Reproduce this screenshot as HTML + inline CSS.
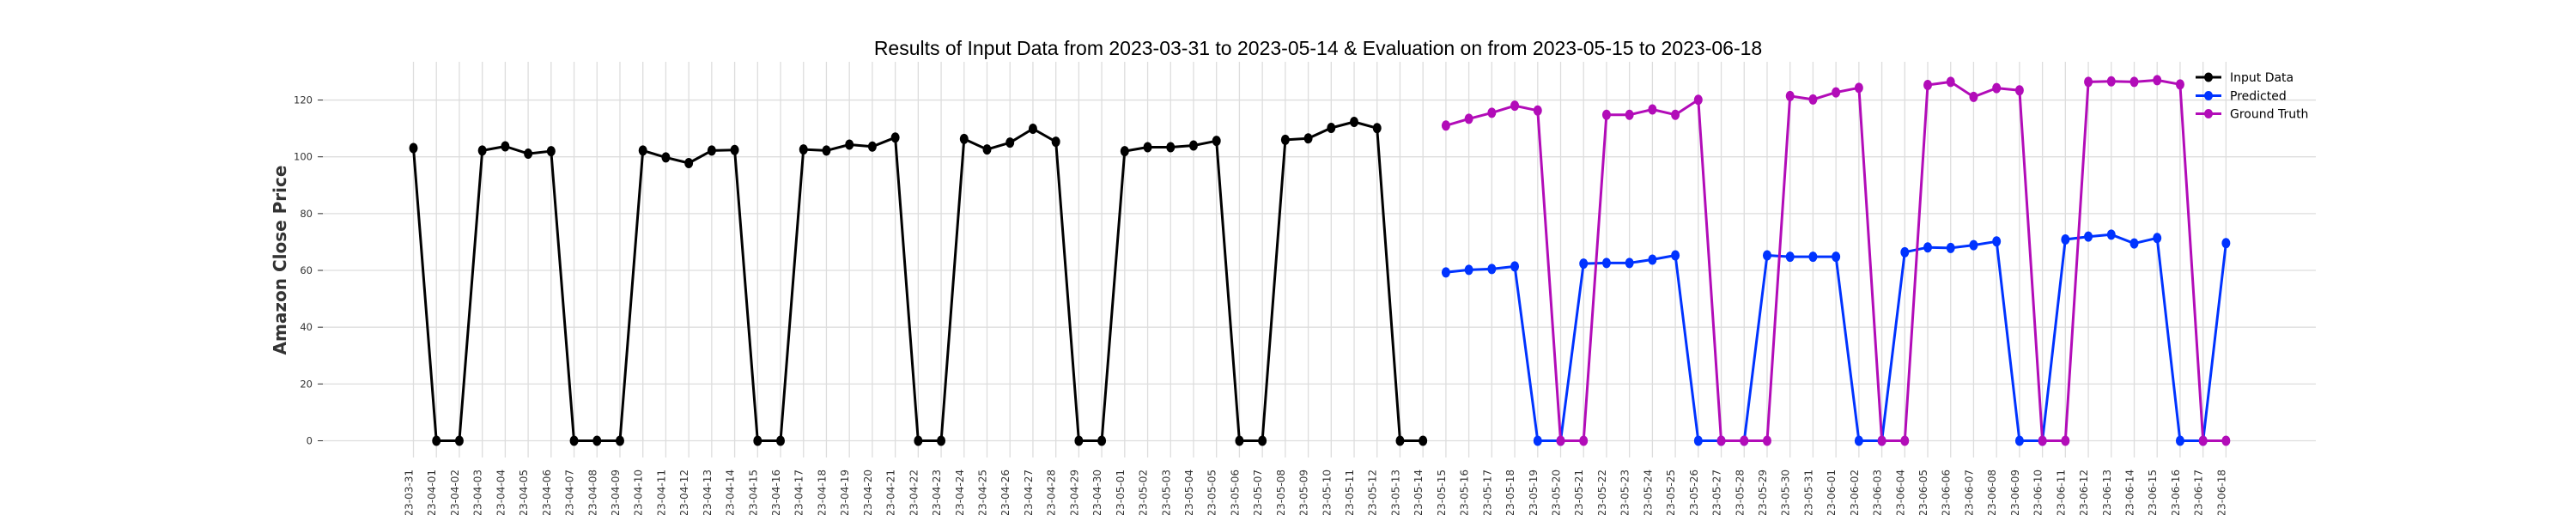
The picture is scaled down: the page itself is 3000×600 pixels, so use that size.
<!DOCTYPE html>
<html><head><meta charset="utf-8">
<style>
html,body{margin:0;padding:0;background:#fff;}
svg{display:block;}
text{font-family:"DejaVu Sans","Liberation Sans",sans-serif;}
</style></head>
<body>
<svg id="chart" width="3000" height="600" viewBox="0 0 3000 600" xmlns="http://www.w3.org/2000/svg">
<text x="1535" y="64" text-anchor="middle" font-size="23" fill="#000" style="font-family:'Liberation Sans',sans-serif">Results of Input Data from 2023-03-31 to 2023-05-14 &amp; Evaluation on from 2023-05-15 to 2023-06-18</text>
<text transform="translate(333,303) rotate(-90)" text-anchor="middle" font-size="20" font-weight="bold" fill="#333">Amazon Close Price</text>
<g id="grid"></g>
<g id="axes"></g>
<g id="series"></g>
<g id="legend"></g>
</svg>
<script>
const inputDates = ["2023-03-31","2023-04-01","2023-04-02","2023-04-03","2023-04-04","2023-04-05","2023-04-06","2023-04-07","2023-04-08","2023-04-09","2023-04-10","2023-04-11","2023-04-12","2023-04-13","2023-04-14","2023-04-15","2023-04-16","2023-04-17","2023-04-18","2023-04-19","2023-04-20","2023-04-21","2023-04-22","2023-04-23","2023-04-24","2023-04-25","2023-04-26","2023-04-27","2023-04-28","2023-04-29","2023-04-30","2023-05-01","2023-05-02","2023-05-03","2023-05-04","2023-05-05","2023-05-06","2023-05-07","2023-05-08","2023-05-09","2023-05-10","2023-05-11","2023-05-12","2023-05-13","2023-05-14"];
const inputValues = [103.1,0,0,102.2,103.7,101.1,102.0,0,0,0,102.2,99.8,97.8,102.2,102.4,0,0,102.6,102.2,104.3,103.6,106.8,0,0,106.3,102.6,105.0,109.9,105.3,0,0,102.0,103.4,103.4,104.0,105.6,0,0,106.0,106.5,110.2,112.3,110.1,0,0];
const evalDates = ["2023-05-15","2023-05-16","2023-05-17","2023-05-18","2023-05-19","2023-05-20","2023-05-21","2023-05-22","2023-05-23","2023-05-24","2023-05-25","2023-05-26","2023-05-27","2023-05-28","2023-05-29","2023-05-30","2023-05-31","2023-06-01","2023-06-02","2023-06-03","2023-06-04","2023-06-05","2023-06-06","2023-06-07","2023-06-08","2023-06-09","2023-06-10","2023-06-11","2023-06-12","2023-06-13","2023-06-14","2023-06-15","2023-06-16","2023-06-17","2023-06-18"];
const predictedValues = [59.3,60.2,60.5,61.4,0,0,62.4,62.6,62.6,63.8,65.3,0,0,0,65.3,64.8,64.8,64.8,0,0,66.4,68.1,67.9,68.9,70.2,0,0,70.9,71.9,72.6,69.5,71.4,0,0,69.6];
const groundTruthValues = [111.0,113.4,115.5,118.0,116.3,0,0,114.8,114.8,116.7,114.8,120.1,0,0,0,121.4,120.2,122.7,124.3,0,0,125.3,126.4,121.1,124.2,123.4,0,0,126.4,126.6,126.4,127.0,125.5,0,0];
const yTicks = [0,20,40,60,80,100,120];

const NS="http://www.w3.org/2000/svg";
const allDates = inputDates.concat(evalDates);
const X0=481.5, STEP=26.72, Y0=513.5, YPX=3.308;
const PL=372, PR=2697, PT=72, PB=533;
function xScale(i){return X0+i*STEP;}
function yScale(v){return Y0-v*YPX;}
function mk(tag,attrs,parent){const e=document.createElementNS(NS,tag);for(const k in attrs)e.setAttribute(k,attrs[k]);parent.appendChild(e);return e;}
const grid=document.getElementById('grid'), axes=document.getElementById('axes'), series=document.getElementById('series'), legend=document.getElementById('legend');

yTicks.forEach(t=>{
  const y=yScale(t);
  const g=mk('line',{x1:PL,x2:PR,y1:y,y2:y,stroke:'#dddddd','stroke-width':1.3},grid);
  
  
  const tk=mk('line',{x1:370,x2:376,y1:y,y2:y,stroke:'#333','stroke-width':1},axes);
  
  
  const tx=mk('text',{x:364,y:y+4,'text-anchor':'end','font-size':11.5,fill:'#333'},axes);
  
  
  tx.textContent=t;
});
allDates.forEach((d,i)=>{
  const x=xScale(i);
  const g=mk('line',{x1:x,x2:x,y1:PT,y2:PB,stroke:'#dddddd','stroke-width':1.3},grid);
  
  
  const tx=mk('text',{transform:`translate(${x-1},547) rotate(-90)`,'text-anchor':'end','font-size':12,fill:'#333'},axes);
  
  
  tx.textContent=d;
});

function drawSeries(vals,offset,color,name){
  const g=mk('g',{},series);
  
  
  const pts=vals.map((v,i)=>xScale(i+offset).toFixed(1)+','+yScale(v).toFixed(1)).join(' ');
  const pl=mk('polyline',{points:pts,fill:'none',stroke:color,'stroke-width':3,'stroke-linejoin':'round'},g);
  
  
  vals.forEach((v,i)=>{
    const c=mk('ellipse',{cx:xScale(i+offset),cy:yScale(v),rx:5,ry:6,fill:color},g);
    
    
  });
}
drawSeries(inputValues,0,'#000000','input-data');
drawSeries(predictedValues,inputDates.length,'#0033ff','predicted');
drawSeries(groundTruthValues,inputDates.length,'#b20cb8','ground-truth');

const legendItems=[["Input Data","#000000",90],["Predicted","#0033ff",111.5],["Ground Truth","#b20cb8",132.5]];
legendItems.forEach(([label,color,y])=>{
  const g=mk('g',{},legend);
  
  
  mk('line',{x1:2557,x2:2587,y1:y,y2:y,stroke:color,'stroke-width':3},g);
  mk('ellipse',{cx:2572,cy:y,rx:5,ry:5.5,fill:color},g);
  const t=mk('text',{x:2597,y:y+5,'font-size':14,fill:'#000'},g);
  
  
  t.textContent=label;
});
</script>
</body></html>
